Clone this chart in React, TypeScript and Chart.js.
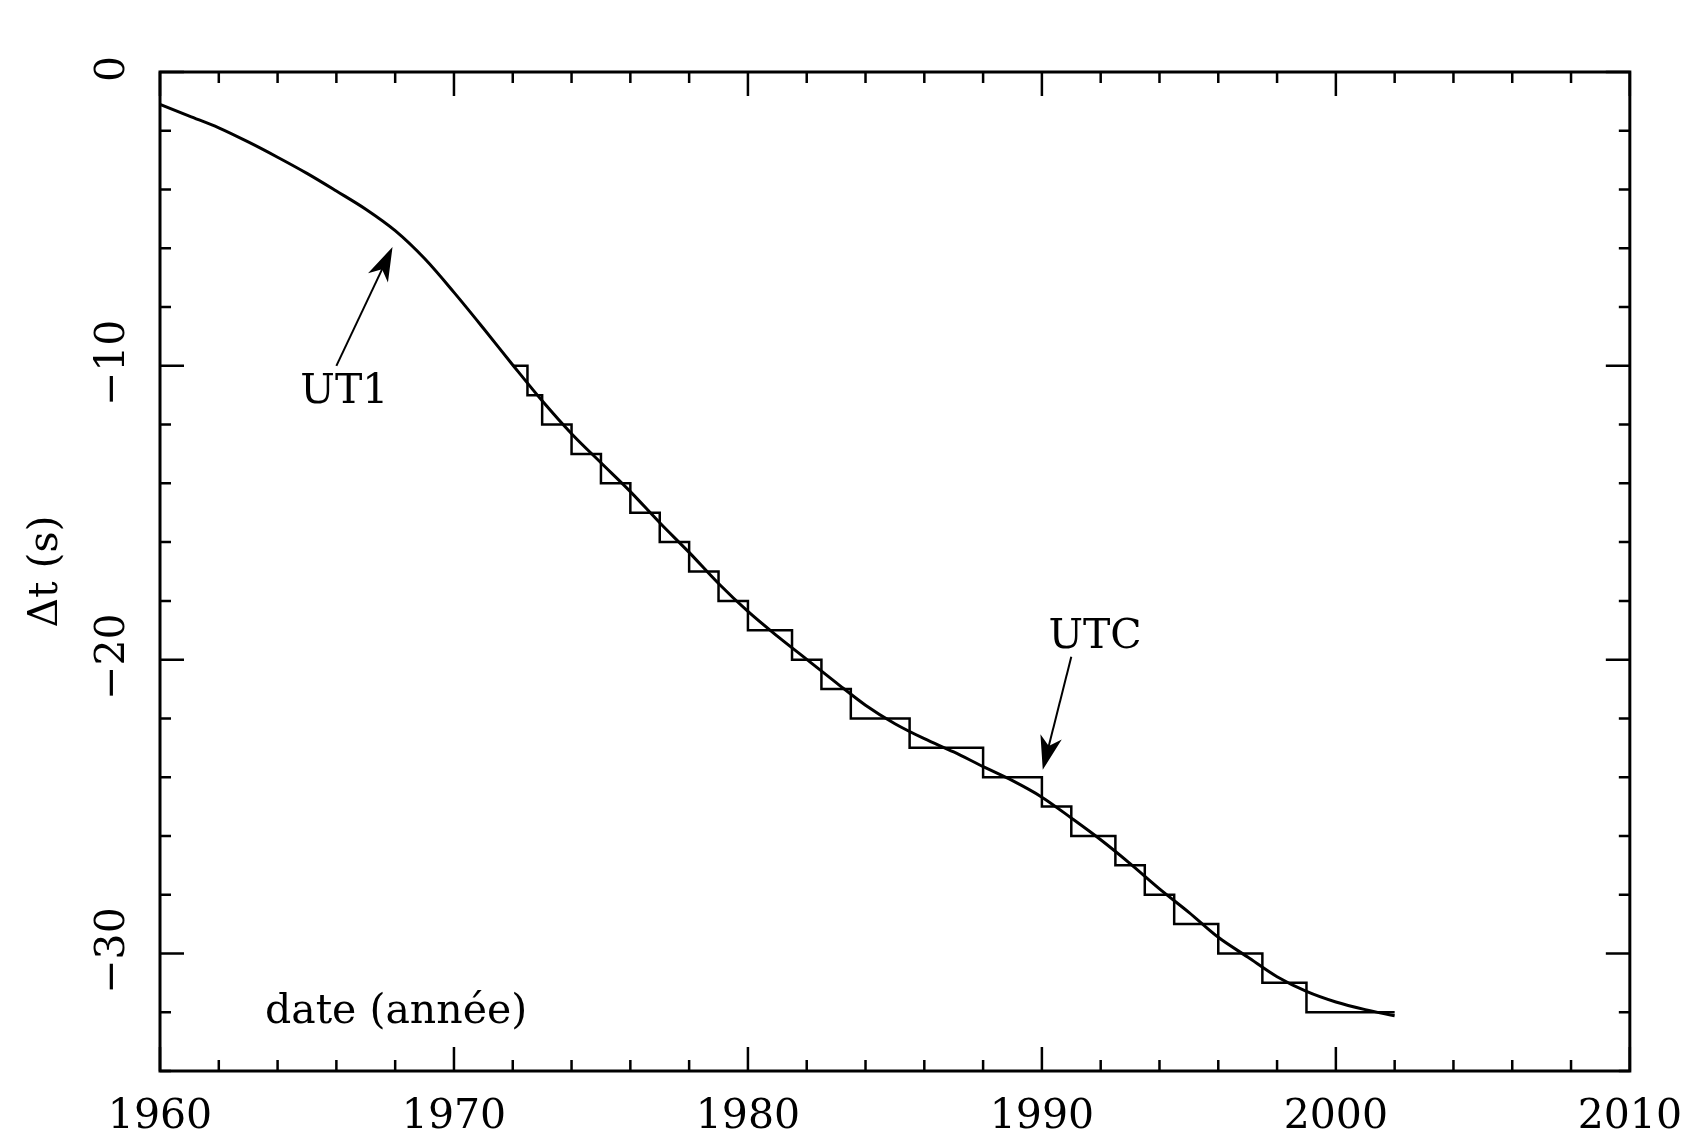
import { useEffect, useRef } from 'react';
import { Chart, registerables } from 'chart.js';

Chart.register(...registerables);

// UT1 - TAI (s)
const ut1Years = [
  1960, 1961, 1962, 1963, 1964, 1965, 1966, 1967, 1968, 1969, 1970, 1971, 1972,
  1973, 1974, 1975, 1976, 1977, 1978, 1979, 1980, 1981, 1982, 1983, 1984, 1985,
  1986, 1987, 1988, 1989, 1990, 1991, 1992, 1993, 1994, 1995, 1996, 1997, 1998,
  1999, 2000, 2001, 2002,
];
const ut1Values = [
  -1.1, -1.5, -1.9, -2.38, -2.9, -3.45, -4.05, -4.67, -5.4, -6.35, -7.5, -8.72, -9.97,
  -11.19, -12.31, -13.3, -14.28, -15.34, -16.35, -17.41, -18.36, -19.2, -19.99, -20.78, -21.55, -22.18,
  -22.69, -23.14, -23.64, -24.12, -24.68, -25.39, -26.13, -26.94, -27.8, -28.6, -29.45, -30.12, -30.79,
  -31.29, -31.65, -31.91, -32.12,
];

// UTC - TAI (s), staircase (value holds from this date to the next)
const utcYears = [
  1972, 1972.5, 1973, 1974, 1975, 1976, 1977, 1978, 1979, 1980, 1981.5, 1982.5,
  1983.5, 1985.5, 1988, 1990, 1991, 1992.5, 1993.5, 1994.5, 1996, 1997.5, 1999, 2002,
];
const utcValues = [
  -10, -11, -12, -13, -14, -15, -16, -17, -18, -19, -20, -21,
  -22, -23, -24, -25, -26, -27, -28, -29, -30, -31, -32, -32,
];

const xTickLabels = ['1960', '1970', '1980', '1990', '2000', '2010'];
const yTickValues = [0, -10, -20, -30];
const yTickLabels = ['0', '\u221210', '\u221220', '\u221230'];

const FONT_FAMILY = '"DejaVu Serif", serif';
const FONT_SIZE = 41;

function drawArrow(ctx: CanvasRenderingContext2D, x1: number, y1: number, x2: number, y2: number) {
  const ang = Math.atan2(y2 - y1, x2 - x1);
  const L = 34;
  const W = 11;
  const cx = Math.cos(ang);
  const sy = Math.sin(ang);
  ctx.beginPath();
  ctx.moveTo(x1, y1);
  ctx.lineTo(x2 - cx * L * 0.6, y2 - sy * L * 0.6);
  ctx.stroke();
  const bx = x2 - cx * L;
  const by = y2 - sy * L;
  const nx = -sy;
  const ny = cx;
  ctx.beginPath();
  ctx.moveTo(x2, y2);
  ctx.lineTo(bx + nx * W, by + ny * W);
  ctx.lineTo(x2 - cx * L * 0.72, y2 - sy * L * 0.72);
  ctx.lineTo(bx - nx * W, by - ny * W);
  ctx.closePath();
  ctx.fill();
}

const framePlugin = {
  id: 'frame',
  afterDraw(chart: any) {
    const { ctx, chartArea: a, scales } = chart;
    const xs = scales.x;
    const ys = scales.y;
    ctx.save();
    ctx.strokeStyle = '#000';
    ctx.fillStyle = '#000';
    ctx.lineWidth = 3;
    ctx.strokeRect(a.left, a.top, a.right - a.left, a.bottom - a.top);

    // inward ticks
    ctx.lineWidth = 2.5;
    const majorLen = 24;
    const minorLen = 11;
    for (let v = xs.min; v <= xs.max; v += 2) {
      const px = xs.getPixelForValue(v);
      const len = v % 10 === 0 ? majorLen : minorLen;
      ctx.beginPath();
      ctx.moveTo(px, a.bottom);
      ctx.lineTo(px, a.bottom - len);
      ctx.moveTo(px, a.top);
      ctx.lineTo(px, a.top + len);
      ctx.stroke();
    }
    for (let v = ys.max; v >= ys.min; v -= 2) {
      const py = ys.getPixelForValue(v);
      const len = v % 10 === 0 ? majorLen : minorLen;
      ctx.beginPath();
      ctx.moveTo(a.left, py);
      ctx.lineTo(a.left + len, py);
      ctx.moveTo(a.right, py);
      ctx.lineTo(a.right - len, py);
      ctx.stroke();
    }

    // rotated y tick labels
    ctx.font = `${FONT_SIZE}px ${FONT_FAMILY}`;
    ctx.textAlign = 'center';
    ctx.textBaseline = 'middle';
    yTickValues.forEach((v, i) => {
      const py = ys.getPixelForValue(v);
      ctx.save();
      ctx.translate(113, py - 3);
      ctx.rotate(-Math.PI / 2);
      ctx.fillText(yTickLabels[i], 0, 0);
      ctx.restore();
    });

    // annotations
    ctx.textBaseline = 'alphabetic';
    ctx.textAlign = 'center';
    ctx.fillText('UT1', xs.getPixelForValue(1966.27), ys.getPixelForValue(-11.27));
    ctx.fillText('UTC', xs.getPixelForValue(1991.81), ys.getPixelForValue(-19.6));
    ctx.textAlign = 'left';
    ctx.fillText('date (ann\u00e9e)', xs.getPixelForValue(1963.57), ys.getPixelForValue(-32.37));

    ctx.lineWidth = 2;
    drawArrow(
      ctx,
      xs.getPixelForValue(1966.0), ys.getPixelForValue(-10.0),
      xs.getPixelForValue(1967.91), ys.getPixelForValue(-5.96),
    );
    drawArrow(
      ctx,
      xs.getPixelForValue(1991.0), ys.getPixelForValue(-19.9),
      xs.getPixelForValue(1990.03), ys.getPixelForValue(-23.75),
    );
    ctx.restore();
  },
};

export default function App() {
  const canvasRef = useRef<HTMLCanvasElement | null>(null);

  useEffect(() => {
    const canvas = canvasRef.current;
    if (!canvas) return;
    const font = { family: FONT_FAMILY, size: FONT_SIZE };
    const chart = new Chart(canvas, {
      type: 'line',
      data: {
        datasets: [
          {
            label: 'UT1',
            data: ut1Years.map((x, i) => ({ x, y: ut1Values[i] })),
            borderColor: '#000',
            borderWidth: 3,
            pointRadius: 0,
            fill: false,
            cubicInterpolationMode: 'monotone',
          },
          {
            label: 'UTC',
            data: utcYears.map((x, i) => ({ x, y: utcValues[i] })),
            borderColor: '#000',
            borderWidth: 2.5,
            pointRadius: 0,
            fill: false,
            stepped: true,
          },
        ],
      },
      options: {
        responsive: false,
        animation: false,
        layout: { padding: { top: 72, right: 64, left: 0, bottom: 0 } },
        plugins: {
          legend: { display: false },
          tooltip: { enabled: false },
        },
        scales: {
          x: {
            type: 'linear',
            min: 1960,
            max: 2010,
            grid: { display: false },
            border: { display: false },
            ticks: {
              stepSize: 10,
              color: '#000',
              font,
              padding: 14,
              maxRotation: 0,
              minRotation: 0,
              callback: (_v: any, i: number) => xTickLabels[i],
            },
            afterFit: (s: any) => {
              s.height = 66;
            },
          },
          y: {
            type: 'linear',
            min: -34,
            max: 0,
            grid: { display: false },
            border: { display: false },
            ticks: { display: false },
            title: {
              display: true,
              text: '\u0394t (s)',
              color: '#000',
              font,
              padding: { top: 22, bottom: 0 },
            },
            afterFit: (s: any) => {
              s.width = 160;
            },
          },
        },
      },
      plugins: [framePlugin],
    } as any);
    return () => chart.destroy();
  }, []);

  return (
    <div style={{ position: 'absolute', left: 0, top: 0, width: 1696, height: 1137, background: '#fff' }}>
      <canvas ref={canvasRef} width={1696} height={1137} />
    </div>
  );
}
